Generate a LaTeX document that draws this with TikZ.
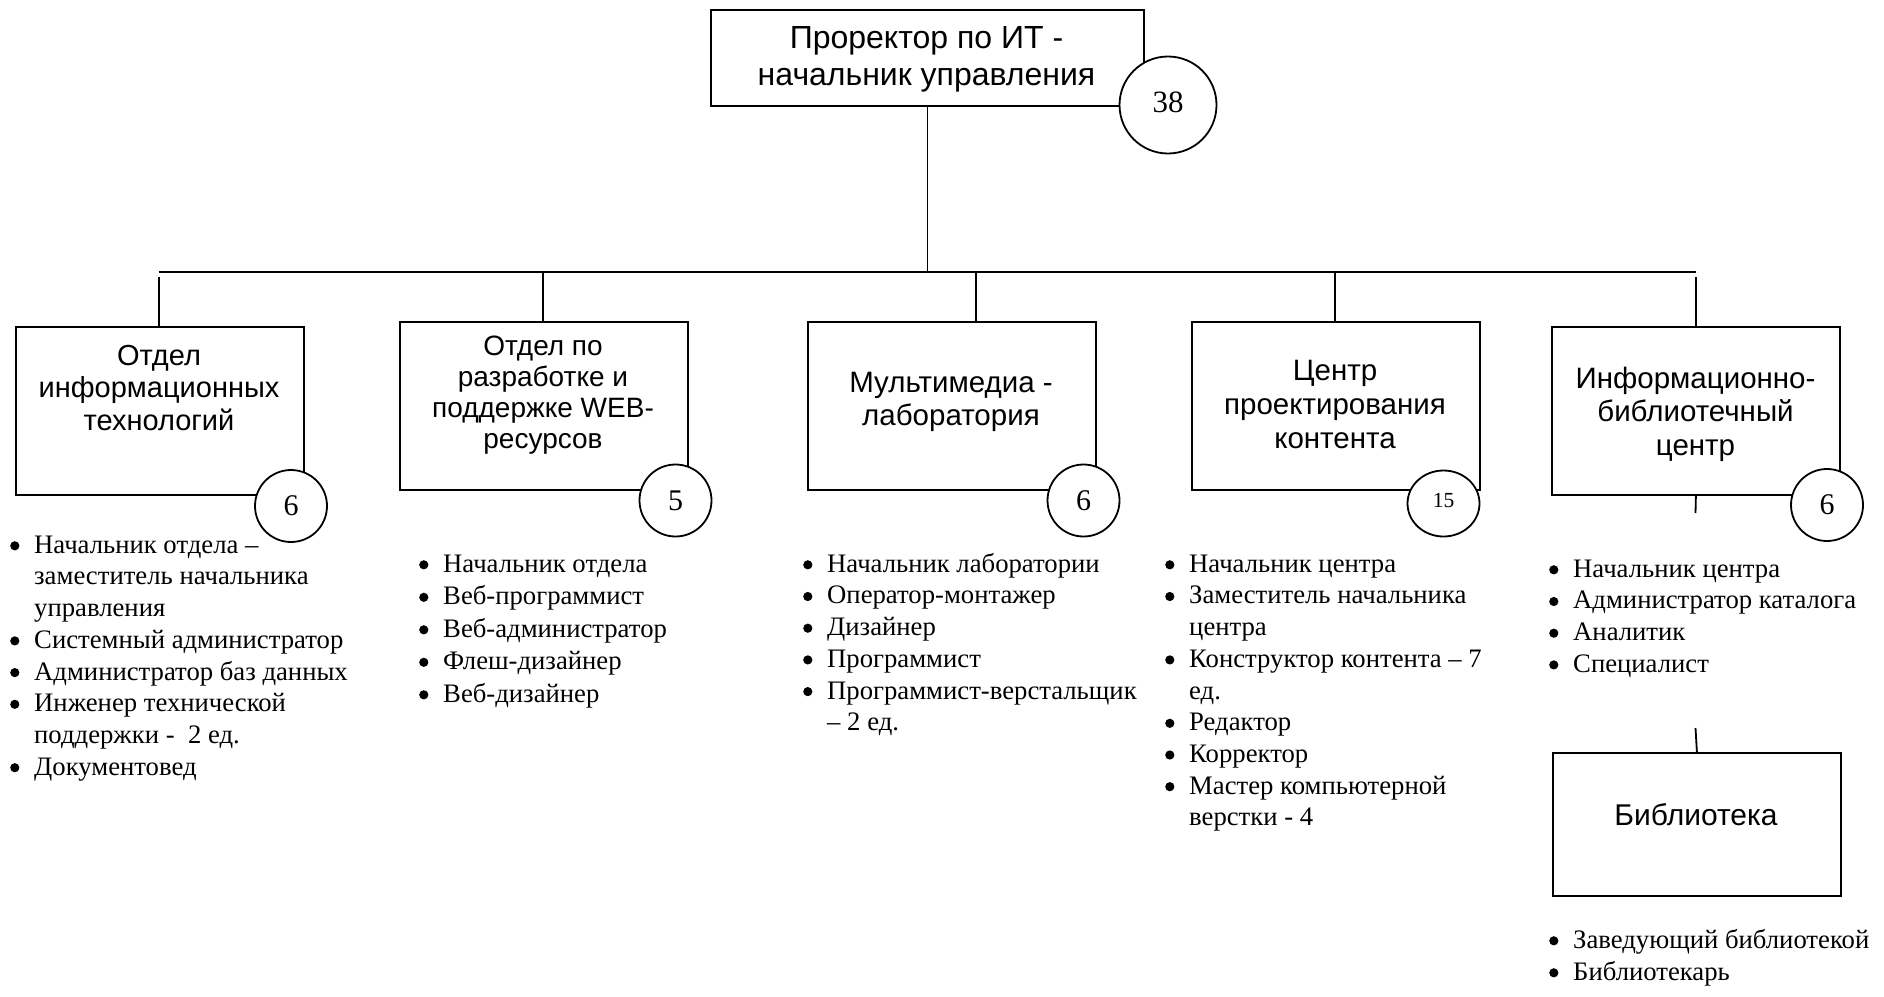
\documentclass[tikz,border=0pt]{standalone}
\usepackage{fontspec}
\usetikzlibrary{shapes.geometric}
\setmainfont{Liberation Serif}
\newfontfamily\arialf{Liberation Sans}
\newcommand\bdot{\tikz[x=1pt,y=1pt,baseline=0pt]\fill (4.8,7.4) circle[radius=4.6pt];}
\newcommand\bitem[1]{\makebox[24pt][l]{\bdot}#1}
\newcommand\bcont[1]{\hspace*{24pt}#1}
\begin{document}
\begin{tikzpicture}[x=1pt,y=-1pt,
  lw/.style={line width=1.8pt},
  box/.style={draw, lw, rectangle, minimum width=288pt, minimum height=168pt, anchor=north west, inner sep=0pt},
  btext/.style={anchor=north, inner sep=0pt, align=center, font=\arialf\fontsize{29.5}{33}\selectfont},
  num/.style={draw, lw, circle, fill=white, minimum size=72pt, inner sep=0pt, font=\fontsize{30}{30}\selectfont},
  oval/.style={draw, lw, ellipse, fill=white, minimum width=72pt, minimum height=66pt, inner sep=0pt},
  blist/.style={anchor=north west, inner sep=0pt, align=left, font=\fontsize{26.7}{31.7}\selectfont},
  conn/.style={lw}]
\useasboundingbox (0,0) rectangle (1884,996);
% top
\node[box, minimum width=433pt, minimum height=96pt] (top) at (710,9) {};
\node[btext, font=\arialf\fontsize{32}{37}\selectfont] (toptext) at (926.5,20) {\rule{0pt}{28pt}Проректор по ИТ -\\начальник управления};
% boxes
\node[box] (b1) at (15,326) {};
\node[box] (b2) at (399,321) {};
\node[box] (b3) at (807,321) {};
\node[box] (b4) at (1191,321) {};
\node[box] (b5) at (1551,326) {};
\node[box, minimum height=143pt] (lib) at (1552,752) {};
% box texts
\node[btext, font=\arialf\fontsize{29}{32.5}\selectfont] (t1) at (159,339) {\rule{0pt}{26pt}Отдел\\информационных\\технологий};
\node[btext, font=\arialf\fontsize{28}{31}\selectfont] (t2) at (543,329) {\rule{0pt}{26pt}Отдел по\\разработке и\\поддержке WEB-\\ресурсов};
\node[btext] (t3) at (951,366) {\rule{0pt}{26pt}Мультимедиа -\\лаборатория};
\node[btext, font=\arialf\fontsize{29.5}{34}\selectfont] (t4) at (1335,354) {\rule{0pt}{26pt}Центр\\проектирования\\контента};
\node[btext, font=\arialf\fontsize{29.5}{33.5}\selectfont] (t5) at (1695.5,362) {\rule{0pt}{26pt}Информационно-\\библиотечный\\центр};
\node[btext, font=\arialf\fontsize{30}{33}\selectfont] (t6) at (1696,799) {\rule{0pt}{26pt}Библиотека};
% connectors
\coordinate (busL) at (159,272);
\coordinate (busR) at (1696,272);
\coordinate (j1) at (159,277);
\coordinate (j2) at (543,272);
\coordinate (j3) at (976,272);
\coordinate (j4) at (1335,272);
\coordinate (j5) at (1696,277);
\draw[conn] (busL) -- (busR);
\draw[conn] (top.south) -- (top.south |- busL);
\draw[conn] (j1) -- (j1 |- b1.north);
\draw[conn] (j2) -- (j2 |- b2.north);
\draw[conn] (j3) -- (j3 |- b3.north);
\draw[conn] (j4) -- (j4 |- b4.north);
\draw[conn] (j5) -- (j5 |- b5.north);
\coordinate (k1) at (1695.5,513);
\coordinate (k2) at (1695.5,728);
\draw[conn] (b5.south) -- (k1);
\draw[conn] (k2) -- (lib.north);
% circles
\node[num, minimum size=97pt, font=\fontsize{31}{31}\selectfont] (c0) at (1168,105) {\raisebox{5pt}{38}};
\node[num] (c1) at (291,506) {6};
\node[num] (c2) at (675.5,500.5) {5};
\node[num] (c3) at (1083.5,500.5) {6};
\node[oval] (c4) at (1443.5,503.5) {\raisebox{7pt}{\fontsize{21.5}{21.5}\selectfont 15}};
\node[num] (c5) at (1827,505) {6};
% lists
\node[blist] (l1) at (10,529) {\rule{0pt}{24pt}\bitem{Начальник отдела –}\\
  \bcont{заместитель начальника}\\ \bcont{управления}\\
  \bitem{Системный администратор}\\ \bitem{Администратор баз данных}\\
  \bitem{Инженер технической}\\ \bcont{поддержки -\ \ 2 ед.}\\ \bitem{Документовед}};
\node[blist, font=\fontsize{26.7}{32.5}\selectfont] (l2) at (419,548) {\rule{0pt}{24pt}\bitem{Начальник отдела}\\
  \bitem{Веб-программист}\\ \bitem{Веб-администратор}\\ \bitem{Флеш-дизайнер}\\ \bitem{Веб-дизайнер}};
\node[blist] (l3) at (803,548) {\rule{0pt}{24pt}\bitem{Начальник лаборатории}\\
  \bitem{Оператор-монтажер}\\ \bitem{Дизайнер}\\ \bitem{Программист}\\
  \bitem{Программист-верстальщик}\\ \bcont{– 2 ед.}};
\node[blist] (l4) at (1165,548) {\rule{0pt}{24pt}\bitem{Начальник центра}\\
  \bitem{Заместитель начальника}\\ \bcont{центра}\\
  \bitem{Конструктор контента – 7}\\ \bcont{ед.}\\
  \bitem{Редактор}\\ \bitem{Корректор}\\
  \bitem{Мастер компьютерной}\\ \bcont{верстки - 4}};
\node[blist] (l5) at (1549,553) {\rule{0pt}{24pt}\bitem{Начальник центра}\\
  \bitem{Администратор каталога}\\ \bitem{Аналитик}\\ \bitem{Специалист}};
\node[blist, font=\fontsize{26.7}{32}\selectfont] (l6) at (1549,924) {\rule{0pt}{24pt}\bitem{Заведующий библиотекой}\\
  \bitem{Библиотекарь}};
\end{tikzpicture}
\end{document}
